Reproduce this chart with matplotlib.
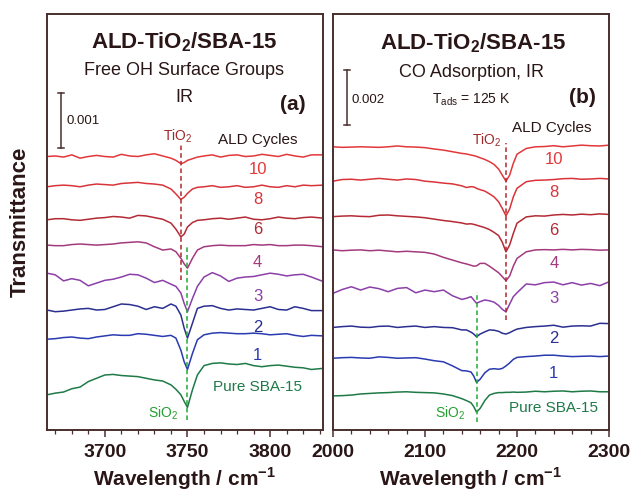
import numpy as np
import matplotlib
matplotlib.use("Agg")
import matplotlib.pyplot as plt
from matplotlib.ticker import MultipleLocator

plt.rcParams["font.family"] = ["Liberation Sans", "DejaVu Sans"]
plt.rcParams["mathtext.fontset"] = "custom"
plt.rcParams["mathtext.rm"] = "Liberation Sans"
plt.rcParams["mathtext.bf"] = "Liberation Sans:bold"

# ---- panel (a): free OH region, transmittance in units of 1e-3 (offset stacked)
wn_oh = [3665, 3670, 3675, 3680, 3685, 3690, 3695, 3700, 3705, 3710, 3715, 3720, 3725,
         3730, 3735, 3740, 3743, 3746, 3748, 3750, 3753, 3756, 3760, 3765, 3770, 3775,
         3780, 3785, 3790, 3795, 3800, 3805, 3810, 3815, 3820, 3825, 3832]
oh_10 = [4.97, 4.98, 4.96, 5.00, 4.94, 4.97, 4.99, 4.97, 4.96, 5.01, 4.98, 4.97, 5.00,
         5.02, 4.98, 4.94, 4.90, 4.84, 4.86, 4.90, 4.93, 4.96, 4.98, 5.00, 4.96, 4.99,
         5.00, 4.97, 4.98, 5.01, 4.99, 4.97, 5.01, 4.98, 4.96, 5.00, 5.00]
oh_8 = [4.42, 4.44, 4.45, 4.44, 4.42, 4.45, 4.47, 4.46, 4.45, 4.48, 4.49, 4.50, 4.48,
        4.47, 4.45, 4.38, 4.29, 4.19, 4.23, 4.30, 4.38, 4.41, 4.42, 4.44, 4.41, 4.42,
        4.44, 4.41, 4.42, 4.45, 4.42, 4.41, 4.44, 4.42, 4.45, 4.44, 4.45]
oh_6 = [3.82, 3.84, 3.84, 3.82, 3.81, 3.83, 3.85, 3.86, 3.88, 3.87, 3.85, 3.90, 3.89,
        3.86, 3.83, 3.76, 3.65, 3.51, 3.56, 3.69, 3.77, 3.81, 3.82, 3.84, 3.85, 3.83,
        3.85, 3.87, 3.83, 3.82, 3.84, 3.87, 3.85, 3.84, 3.86, 3.87, 3.85]
oh_4 = [3.36, 3.35, 3.35, 3.37, 3.38, 3.37, 3.36, 3.37, 3.38, 3.40, 3.41, 3.42, 3.40,
        3.33, 3.27, 3.29, 3.24, 3.12, 3.02, 2.94, 3.12, 3.27, 3.33, 3.35, 3.36, 3.35,
        3.35, 3.35, 3.37, 3.36, 3.37, 3.35, 3.35, 3.36, 3.36, 3.35, 3.33]
oh_3 = [2.85, 2.82, 2.71, 2.75, 2.72, 2.62, 2.67, 2.72, 2.74, 2.78, 2.83, 2.82, 2.76,
        2.68, 2.72, 2.65, 2.61, 2.49, 2.30, 2.15, 2.39, 2.61, 2.78, 2.86, 2.80, 2.70,
        2.76, 2.78, 2.79, 2.82, 2.85, 2.83, 2.80, 2.82, 2.83, 2.78, 2.70]
oh_2 = [2.18, 2.15, 2.16, 2.18, 2.20, 2.21, 2.18, 2.19, 2.24, 2.29, 2.28, 2.25, 2.19,
        2.24, 2.21, 2.29, 2.25, 2.09, 1.85, 1.67, 1.94, 2.21, 2.25, 2.26, 2.21, 2.18,
        2.20, 2.19, 2.18, 2.21, 2.24, 2.19, 2.18, 2.24, 2.21, 2.17, 2.17]
oh_1 = [1.65, 1.66, 1.68, 1.69, 1.67, 1.66, 1.69, 1.71, 1.73, 1.72, 1.72, 1.75, 1.74,
        1.72, 1.70, 1.72, 1.67, 1.45, 1.24, 1.10, 1.39, 1.64, 1.73, 1.76, 1.77, 1.76,
        1.75, 1.75, 1.76, 1.75, 1.73, 1.74, 1.75, 1.72, 1.70, 1.72, 1.71]
oh_pure = [0.64, 0.67, 0.69, 0.75, 0.78, 0.88, 0.94, 1.00, 1.01, 0.99, 0.98, 0.97, 0.94,
           0.91, 0.89, 0.82, 0.74, 0.64, 0.52, 0.41, 0.73, 1.00, 1.17, 1.21, 1.22, 1.20,
           1.19, 1.21, 1.17, 1.15, 1.17, 1.18, 1.16, 1.14, 1.13, 1.10, 1.12]

# ---- panel (b): CO adsorption region, transmittance in units of 1e-3 (offset stacked)
wn_co = [2000, 2010, 2020, 2030, 2040, 2050, 2060, 2070, 2080, 2090, 2100, 2110, 2120,
         2130, 2140, 2145, 2150, 2153, 2156, 2160, 2165, 2170, 2175, 2180, 2184, 2188,
         2192, 2196, 2200, 2210, 2220, 2230, 2240, 2250, 2260, 2270, 2280, 2290, 2300]
co_10 = [10.30, 10.28, 10.29, 10.30, 10.29, 10.28, 10.30, 10.33, 10.30, 10.29, 10.27,
         10.22, 10.18, 10.12, 10.06, 10.04, 10.00, 9.98, 9.95, 9.90, 9.84, 9.76, 9.66,
         9.49, 9.27, 9.05, 9.27, 9.70, 10.03, 10.24, 10.30, 10.31, 10.34, 10.30, 10.33,
         10.36, 10.34, 10.33, 10.36]
co_8 = [9.05, 9.11, 9.12, 9.09, 9.12, 9.15, 9.12, 9.09, 9.13, 9.11, 9.05, 9.02, 8.98,
        8.95, 8.88, 8.82, 8.85, 8.84, 8.79, 8.74, 8.69, 8.59, 8.48, 8.30, 8.06, 7.79,
        8.04, 8.48, 8.79, 9.03, 9.08, 9.09, 9.11, 9.14, 9.15, 9.12, 9.13, 9.15, 9.13]
co_6 = [7.76, 7.78, 7.79, 7.77, 7.76, 7.81, 7.82, 7.79, 7.77, 7.75, 7.72, 7.67, 7.62,
        7.58, 7.53, 7.49, 7.50, 7.48, 7.45, 7.41, 7.36, 7.29, 7.19, 7.07, 6.83, 6.48,
        6.73, 7.15, 7.52, 7.75, 7.79, 7.78, 7.82, 7.84, 7.82, 7.85, 7.83, 7.86, 7.84]
co_4 = [6.55, 6.52, 6.54, 6.55, 6.52, 6.54, 6.51, 6.48, 6.50, 6.48, 6.46, 6.40, 6.28,
        6.18, 6.08, 6.04, 5.99, 5.96, 5.97, 6.06, 6.06, 5.96, 5.84, 5.72, 5.58, 5.43,
        5.60, 5.96, 6.24, 6.48, 6.55, 6.56, 6.55, 6.57, 6.55, 6.57, 6.56, 6.54, 6.55]
co_3 = [4.97, 5.11, 5.21, 5.09, 5.20, 5.14, 5.03, 5.15, 5.18, 4.99, 5.09, 5.03, 5.09,
        4.88, 4.75, 4.79, 4.85, 4.73, 4.61, 4.67, 4.73, 4.70, 4.65, 4.53, 4.39, 4.30,
        4.58, 4.85, 4.99, 5.31, 5.28, 5.36, 5.38, 5.28, 5.36, 5.27, 5.33, 5.25, 5.39]
co_2 = [3.73, 3.76, 3.78, 3.74, 3.73, 3.77, 3.78, 3.73, 3.76, 3.78, 3.73, 3.76, 3.73,
        3.72, 3.64, 3.64, 3.56, 3.49, 3.39, 3.49, 3.57, 3.64, 3.63, 3.59, 3.52, 3.49,
        3.54, 3.61, 3.67, 3.73, 3.76, 3.78, 3.81, 3.74, 3.78, 3.79, 3.78, 3.88, 3.87]
co_1 = [2.61, 2.63, 2.64, 2.62, 2.61, 2.66, 2.64, 2.61, 2.62, 2.63, 2.58, 2.52, 2.48,
        2.33, 2.16, 2.15, 2.11, 1.96, 1.73, 1.85, 2.08, 2.21, 2.23, 2.21, 2.24, 2.33,
        2.44, 2.57, 2.64, 2.67, 2.69, 2.72, 2.72, 2.69, 2.67, 2.68, 2.69, 2.67, 2.69]
co_pure = [1.24, 1.25, 1.27, 1.31, 1.33, 1.35, 1.36, 1.38, 1.39, 1.37, 1.36, 1.35, 1.31,
           1.25, 1.14, 1.07, 0.99, 0.85, 0.65, 0.79, 1.07, 1.27, 1.33, 1.36, 1.36, 1.37,
           1.37, 1.38, 1.37, 1.38, 1.41, 1.39, 1.41, 1.42, 1.39, 1.41, 1.42, 1.39, 1.39]

cycle_labels = ["10", "8", "6", "4", "3", "2", "1", "Pure SBA-15"]
colors = ["#e2383a", "#d8343a", "#b32a35", "#a33a7e", "#8b3fa8", "#2b2f8f", "#2a3ab0", "#1f7a48"]

# label heights (same units as the spectra)
oh_label_y = [4.73, 4.18, 3.64, 3.05, 2.42, 1.87, 1.36, 0.78]
co_label_y = [9.82, 8.62, 7.27, 6.07, 4.80, 3.31, 2.07, 0.80]

dark = "#2a1616"
spine_col = "#4a2e2e"
red_dash = "#b0282e"
green_dash = "#22aa33"

fig = plt.figure(figsize=(6.35, 4.94), dpi=100)
ax1 = fig.add_axes([47/635, 64/494, 276/635, 416/494])
ax2 = fig.add_axes([333/635, 64/494, 276/635, 416/494])


def style_axis(ax, major, minor):
    for s in ax.spines.values():
        s.set_color(spine_col)
        s.set_linewidth(1.4)
    ax.set_yticks([])
    ax.xaxis.set_major_locator(MultipleLocator(major))
    ax.xaxis.set_minor_locator(MultipleLocator(minor))
    ax.tick_params(axis="x", which="major", direction="out", length=5, width=1.1,
                   colors=spine_col, labelcolor=dark, labelsize=14, pad=5)
    ax.tick_params(axis="x", which="minor", direction="out", length=3, width=0.9,
                   colors=spine_col)
    for lab in ax.get_xticklabels():
        lab.set_fontweight("bold")
    ax.set_xlabel("Wavelength / cm$^{\\mathbf{-1}}$", fontsize=15, fontweight="bold",
                  color=dark, labelpad=3)


# ---------- panel (a)
oh_curves = [oh_10, oh_8, oh_6, oh_4, oh_3, oh_2, oh_1, oh_pure]
for y, c in zip(oh_curves, colors):
    ax1.plot(wn_oh, y, color=c, lw=1.1)
ax1.set_xlim(3665, 3832)
ax1.set_ylim(0, 7.56)
style_axis(ax1, 50, 10)

ax1.plot([3746, 3746], [2.73, 5.18], ls=(0, (3, 2)), color=red_dash, lw=1.1)
ax1.plot([3750, 3750], [0.18, 3.36], ls=(0, (3, 2)), color=green_dash, lw=1.1)
for lab, ly, c in zip(cycle_labels, oh_label_y, colors):
    ax1.text(3792.5, ly, lab, color=c, fontsize=12 if lab != "Pure SBA-15" else 11,
             ha="center", va="center")
ax1.text(3792.5, 5.27, "ALD Cycles", color=dark, fontsize=11, ha="center", va="center")
ax1.text(3744, 5.33, "TiO$_2$", color="#a02828", fontsize=10, ha="center", va="center")
ax1.text(3735, 0.31, "SiO$_2$", color="#22a030", fontsize=10, ha="center", va="center")

ax1.text(3748, 7.04, "ALD-TiO$_\\mathbf{2}$/SBA-15", fontsize=16, fontweight="bold",
         color=dark, ha="center", va="center")
ax1.text(3748, 6.53, "Free OH Surface Groups", fontsize=13, color=dark, ha="center", va="center")
ax1.text(3748, 6.05, "IR", fontsize=13, color=dark, ha="center", va="center")
ax1.text(3814, 5.91, "(a)", fontsize=15, fontweight="bold", color=dark, ha="center", va="center")

# scale bar 0.001
ax1.plot([3673.6, 3673.6], [5.13, 6.13], color=spine_col, lw=1.1)
ax1.plot([3671.8, 3675.4], [5.13, 5.13], color=spine_col, lw=1.1)
ax1.plot([3671.8, 3675.4], [6.13, 6.13], color=spine_col, lw=1.1)
ax1.text(3677, 5.62, "0.001", fontsize=9.5, color=dark, ha="left", va="center")

fig.text(20/635, (494 - 222)/494, "Transmittance", rotation=90, fontsize=16,
         fontweight="bold", color=dark, ha="center", va="center")

# ---------- panel (b)
co_curves = [co_10, co_8, co_6, co_4, co_3, co_2, co_1, co_pure]
for y, c in zip(co_curves, colors):
    ax2.plot(wn_co, y, color=c, lw=1.1)
ax2.set_xlim(2000, 2300)
ax2.set_ylim(0, 15.13)
style_axis(ax2, 100, 20)

ax2.plot([2188, 2188], [4.0, 10.44], ls=(0, (3, 2)), color=red_dash, lw=1.1)
ax2.plot([2156, 2156], [0.30, 5.03], ls=(0, (3, 2)), color=green_dash, lw=1.1)
for lab, ly, c in zip(cycle_labels, co_label_y, colors):
    ax2.text(2240, ly, lab, color=c, fontsize=12 if lab != "Pure SBA-15" else 11,
             ha="center", va="center")
ax2.text(2238, 10.98, "ALD Cycles", color=dark, fontsize=11, ha="center", va="center")
ax2.text(2167, 10.55, "TiO$_2$", color="#a02828", fontsize=10, ha="center", va="center")
ax2.text(2127, 0.62, "SiO$_2$", color="#22a030", fontsize=10, ha="center", va="center")

ax2.text(2152, 14.07, "ALD-TiO$_\\mathbf{2}$/SBA-15", fontsize=16, fontweight="bold",
         color=dark, ha="center", va="center")
ax2.text(2151, 13.02, "CO Adsorption, IR", fontsize=13, color=dark, ha="center", va="center")
ax2.text(2150, 12.0, "T$_{\\mathrm{ads}}$ = 125 K", fontsize=10, color=dark, ha="center", va="center")
ax2.text(2271, 12.11, "(b)", fontsize=15, fontweight="bold", color=dark, ha="center", va="center")

# scale bar 0.002
ax2.plot([2015, 2015], [11.09, 13.09], color=spine_col, lw=1.1)
ax2.plot([2011.7, 2018.3], [11.09, 11.09], color=spine_col, lw=1.1)
ax2.plot([2011.7, 2018.3], [13.09, 13.09], color=spine_col, lw=1.1)
ax2.text(2020.5, 12.0, "0.002", fontsize=9.5, color=dark, ha="left", va="center")

fig.savefig("out.png", dpi=100)
plt.close(fig)
